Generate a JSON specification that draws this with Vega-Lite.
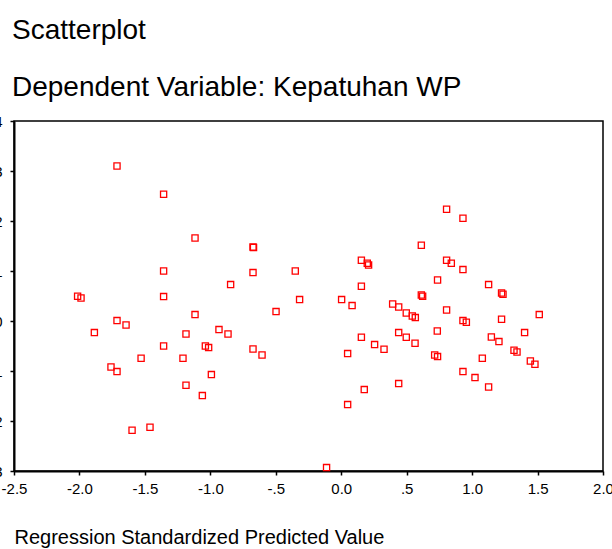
{
  "$schema": "https://vega.github.io/schema/vega-lite/v6.json",
  "width": 589,
  "height": 350,
  "autosize": {"type": "none"},
  "padding": {"left": 14, "top": 121, "right": 9, "bottom": 78},
  "background": "white",
  "title": {
    "text": "Scatterplot",
    "subtitle": "Dependent Variable: Kepatuhan WP",
    "anchor": "start",
    "frame": "group",
    "dx": -2,
    "font": "Liberation Sans",
    "fontSize": 28,
    "fontWeight": "normal",
    "color": "black",
    "subtitleFont": "Liberation Sans",
    "subtitleFontSize": 28,
    "subtitleColor": "black",
    "subtitlePadding": 29,
    "offset": 12
  },
  "data": {
    "values": [
      {"x": -1.713, "y": 3.10}, {"x": -1.357, "y": 2.534}, {"x": -1.117, "y": 1.66},
      {"x": -0.674, "y": 1.48}, {"x": -0.670, "y": 1.47}, {"x": -1.357, "y": 1.00},
      {"x": -0.674, "y": 0.968}, {"x": -0.351, "y": 1.00}, {"x": -0.845, "y": 0.728},
      {"x": -2.014, "y": 0.494}, {"x": -1.988, "y": 0.46}, {"x": -1.357, "y": 0.488},
      {"x": -0.318, "y": 0.428}, {"x": -1.117, "y": 0.128}, {"x": -0.498, "y": 0.188},
      {"x": -1.713, "y": 0.008}, {"x": -1.644, "y": -0.08}, {"x": -1.886, "y": -0.232},
      {"x": -1.186, "y": -0.26}, {"x": -0.934, "y": -0.172}, {"x": -0.865, "y": -0.26},
      {"x": -1.357, "y": -0.50}, {"x": -1.038, "y": -0.50}, {"x": -1.013, "y": -0.532},
      {"x": -0.674, "y": -0.56}, {"x": -0.605, "y": -0.68}, {"x": -1.529, "y": -0.746},
      {"x": -1.209, "y": -0.746}, {"x": -1.759, "y": -0.92}, {"x": -1.713, "y": -1.012},
      {"x": -0.992, "y": -1.072}, {"x": -1.186, "y": -1.286}, {"x": -1.061, "y": -1.492},
      {"x": -1.461, "y": -2.126}, {"x": -1.598, "y": -2.186}, {"x": -0.112, "y": -2.932},
      {"x": 0.805, "y": 2.234}, {"x": 0.930, "y": 2.054}, {"x": 0.612, "y": 1.514},
      {"x": 0.154, "y": 1.214}, {"x": 0.199, "y": 1.154}, {"x": 0.209, "y": 1.12},
      {"x": 0.805, "y": 1.214}, {"x": 0.841, "y": 1.154}, {"x": 0.930, "y": 1.028},
      {"x": 0.736, "y": 0.82}, {"x": 0.154, "y": 0.694}, {"x": 1.126, "y": 0.728},
      {"x": 1.225, "y": 0.56}, {"x": 1.236, "y": 0.534}, {"x": 0.612, "y": 0.52},
      {"x": 0.622, "y": 0.494}, {"x": 0.003, "y": 0.428}, {"x": 0.083, "y": 0.308},
      {"x": 0.393, "y": 0.34}, {"x": 0.439, "y": 0.28}, {"x": 0.497, "y": 0.16},
      {"x": 0.543, "y": 0.10}, {"x": 0.566, "y": 0.068}, {"x": 0.805, "y": 0.22},
      {"x": 0.930, "y": 0.008}, {"x": 0.956, "y": -0.026}, {"x": 1.225, "y": 0.034},
      {"x": 1.513, "y": 0.128}, {"x": 0.154, "y": -0.326}, {"x": 0.439, "y": -0.232},
      {"x": 0.497, "y": -0.326}, {"x": 0.564, "y": -0.446}, {"x": 0.734, "y": -0.20},
      {"x": 0.255, "y": -0.472}, {"x": 0.327, "y": -0.566}, {"x": 0.049, "y": -0.652},
      {"x": 0.714, "y": -0.68}, {"x": 0.736, "y": -0.712}, {"x": 1.147, "y": -0.32},
      {"x": 1.205, "y": -0.412}, {"x": 1.401, "y": -0.232}, {"x": 1.078, "y": -0.746},
      {"x": 1.320, "y": -0.586}, {"x": 1.343, "y": -0.62}, {"x": 1.445, "y": -0.80},
      {"x": 1.480, "y": -0.866}, {"x": 0.930, "y": -1.012}, {"x": 1.022, "y": -1.132},
      {"x": 1.126, "y": -1.32}, {"x": 0.439, "y": -1.252}, {"x": 0.176, "y": -1.372},
      {"x": 0.049, "y": -1.672}
    ]
  },
  "mark": {
    "type": "point",
    "shape": "square",
    "filled": false,
    "stroke": "#ff0000",
    "strokeWidth": 1.3,
    "size": 38,
    "opacity": 1
  },
  "encoding": {
    "x": {
      "field": "x",
      "type": "quantitative",
      "scale": {"domain": [-2.5, 2.0], "nice": false, "zero": false},
      "axis": {
        "title": "Regression Standardized Predicted Value",
        "values": [-2.5, -2, -1.5, -1, -0.5, 0, 0.5, 1, 1.5, 2],
        "labelExpr": "datum.value == 0.5 ? '.5' : datum.value == -0.5 ? '-.5' : (datum.value < 0 ? '-' : '') + format(abs(datum.value), '.1f')",
        "grid": false,
        "tickSize": 4,
        "labelPadding": 6,
        "labelFont": "Liberation Sans",
        "labelFontSize": 15,
        "labelColor": "black",
        "labelFlush": false,
        "labelOverlap": false,
        "domainColor": "black",
        "domainWidth": 2,
        "tickColor": "black",
        "tickWidth": 1.5,
        "titleFont": "Liberation Sans",
        "titleFontSize": 20,
        "titleFontWeight": "normal",
        "titleColor": "black",
        "titleAnchor": "start",
        "titleAlign": "left",
        "titlePadding": 31
      }
    },
    "y": {
      "field": "y",
      "type": "quantitative",
      "scale": {"domain": [-3, 4], "nice": false, "zero": false},
      "axis": {
        "title": null,
        "values": [-3, -2, -1, 0, 1, 2, 3, 4],
        "labelExpr": "(datum.value < 0 ? '-' : '') + format(abs(datum.value), 'd')",
        "grid": false,
        "tickSize": 4,
        "labelPadding": 8,
        "labelFont": "Liberation Sans",
        "labelFontSize": 15,
        "labelColor": "black",
        "labelFlush": false,
        "labelOverlap": false,
        "domainColor": "black",
        "domainWidth": 2,
        "tickColor": "black",
        "tickWidth": 1.5
      }
    }
  },
  "config": {
    "view": {"stroke": "black", "strokeWidth": 1.5}
  }
}
